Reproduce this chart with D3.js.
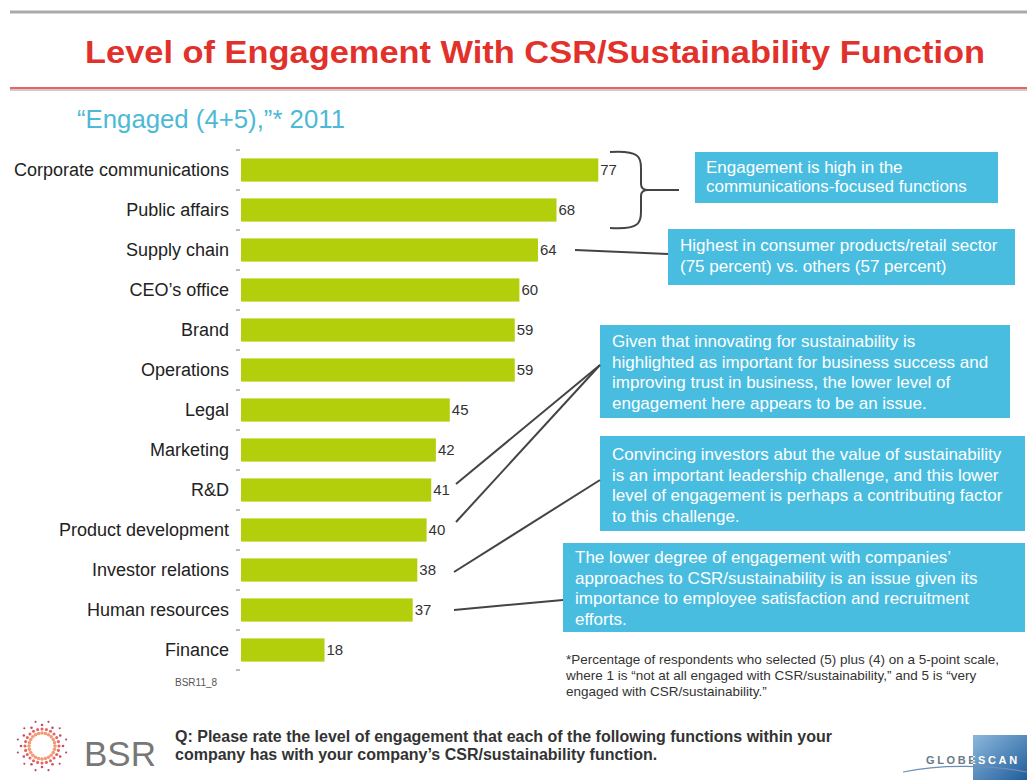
<!DOCTYPE html>
<html>
<head>
<meta charset="utf-8">
<script src="https://cdn.jsdelivr.net/npm/d3@7"></script>
<style>
  body { margin: 0; background: #fff; }
  svg { display: block; font-family: "Liberation Sans", Arial, sans-serif; }
  .cat { font-size: 18px; fill: #222; }
  .val { font-size: 15px; fill: #333; }
  .note { font-size: 17px; fill: #fff; }
</style>
</head>
<body>
<div id="chart"></div>
<script>
//Chart data
let categories = ['Corporate communications', 'Public affairs', 'Supply chain', "CEO\u2019s office", 'Brand', 'Operations',
    'Legal', 'Marketing', 'R&D', 'Product development', 'Investor relations', 'Human resources', 'Finance'];
let values = [77, 68, 64, 60, 59, 59, 45, 42, 41, 40, 38, 37, 18];

//Callout boxes: text lines
let note_lines = [
    ['Engagement is high in the', 'communications-focused functions'],
    ['Highest in consumer products/retail sector', '(75 percent) vs. others (57 percent)'],
    ['Given that innovating for sustainability is', 'highlighted as important for business success and',
     'improving trust in business, the lower level of', 'engagement here appears to be an issue.'],
    ['Convincing investors abut the value of sustainability', 'is an important leadership challenge, and this lower',
     'level of engagement is perhaps a contributing factor', 'to this challenge.'],
    ["The lower degree of engagement with companies\u2019", 'approaches to CSR/sustainability is an issue given its',
     'importance to employee satisfaction and recruitment', 'efforts.']
];
let footnote_lines = ['*Percentage of respondents who selected (5) plus (4) on a 5-point scale,',
    'where 1 is \u201cnot at all engaged with CSR/sustainability,\u201d and 5 is \u201cvery',
    'engaged with CSR/sustainability.\u201d'];
let question_lines = ['Q: Please rate the level of engagement that each of the following functions within your',
    'company has with your company\u2019s CSR/sustainability function.'];

let width = 1027, height = 780;
let svg = d3.select('#chart').append('svg').attr('width', width).attr('height', height);

//Header lines and title
svg.append('line').attr('x1', 10).attr('x2', width).attr('y1', 12).attr('y2', 12)
    .attr('stroke', '#aaa').attr('stroke-width', 3);
svg.append('text').attr('x', 535).attr('y', 63).attr('text-anchor', 'middle')
    .attr('font-size', 31).attr('font-weight', 'bold').attr('fill', '#e2312b')
    .attr('textLength', 900).attr('lengthAdjust', 'spacingAndGlyphs')
    .text('Level of Engagement With CSR/Sustainability Function');
svg.append('line').attr('x1', 10).attr('x2', width).attr('y1', 90).attr('y2', 90)
    .attr('stroke', '#ccc').attr('stroke-width', 2);
svg.append('line').attr('x1', 10).attr('x2', width).attr('y1', 88).attr('y2', 88)
    .attr('stroke', '#e2312b').attr('stroke-width', 1.5);
svg.append('text').attr('x', 77).attr('y', 128).attr('font-size', 25).attr('fill', '#4cb9d6')
    .attr('textLength', 268).attr('lengthAdjust', 'spacingAndGlyphs')
    .text('\u201cEngaged (4+5),\u201d* 2011');

//Scales
let x = d3.scaleLinear().domain([0, 100]).range([241, 705]);
let y = d3.scaleBand().domain(categories).range([150, 670]).paddingInner(0.42).paddingOuter(0.21);
let gap = y.step() * 0.21;

//Small tick marks at band boundaries
let tick_pos = categories.map(c => y(c) - gap).concat([y(categories[categories.length - 1]) + y.bandwidth() + gap]);
svg.selectAll('.tick-mark').data(tick_pos).enter().append('line')
    .attr('x1', 236).attr('x2', 240).attr('y1', d => d).attr('y2', d => d)
    .attr('stroke', '#777').attr('stroke-width', 1);

//Bars
svg.selectAll('.bar').data(values).enter().append('rect')
    .attr('x', x(0)).attr('y', (d, i) => y(categories[i]))
    .attr('width', d => x(d) - x(0)).attr('height', y.bandwidth())
    .attr('fill', '#b3cf0c');

//Category labels
svg.selectAll('.cat').data(categories).enter().append('text').attr('class', 'cat')
    .attr('x', 229).attr('y', d => y(d) + y.bandwidth() / 2).attr('dy', '0.35em')
    .attr('text-anchor', 'end').text(d => d);

//Value labels
svg.selectAll('.val').data(values).enter().append('text').attr('class', 'val')
    .attr('x', d => x(d) + 2).attr('y', (d, i) => y(categories[i]) + y.bandwidth() / 2).attr('dy', '0.35em')
    .text(d => d);
svg.append('text').attr('x', 175).attr('y', 686).attr('font-size', 10).attr('fill', '#555').text('BSR11_8');

//Callout boxes
let boxes = [
    {x: 695, y: 152, w: 303, h: 51, tx: 706, ty: 173, lh: 19},
    {x: 668, y: 229, w: 347, h: 56, tx: 680, ty: 251, lh: 20.5},
    {x: 600, y: 325, w: 410, h: 93, tx: 612, ty: 347, lh: 20.7},
    {x: 600, y: 436, w: 425, h: 95, tx: 612, ty: 460, lh: 20.7},
    {x: 563, y: 543, w: 462, h: 89, tx: 575, ty: 563, lh: 20.7}
];
boxes.forEach((b, i) => {
    svg.append('rect').attr('x', b.x).attr('y', b.y).attr('width', b.w).attr('height', b.h).attr('fill', '#48bde0');
    let t = svg.append('text').attr('class', 'note');
    note_lines[i].forEach((l, j) => {
        t.append('tspan').attr('x', b.tx).attr('y', b.ty + j * b.lh).text(l);
    });
});

//Brace next to the two communications bars
let cy = y('Corporate communications') + y.bandwidth() / 2;
let py = y('Public affairs') + y.bandwidth() / 2;
let mid = (cy + py) / 2;
svg.append('path')
    .attr('d', 'M610,' + (cy - 18) + ' C640,' + (cy - 20) + ' 641,' + (cy - 12) + ' 641,' + (cy - 2) +
        ' L641,' + (mid - 6) + ' C641,' + (mid - 1) + ' 644,' + mid + ' 648,' + mid +
        ' C644,' + mid + ' 641,' + (mid + 1) + ' 641,' + (mid + 6) +
        ' L641,' + (py + 2) + ' C641,' + (py + 12) + ' 640,' + (py + 20) + ' 610,' + (py + 18))
    .attr('fill', 'none').attr('stroke', '#444').attr('stroke-width', 2);
svg.append('line').attr('x1', 648).attr('x2', 679).attr('y1', mid).attr('y2', mid)
    .attr('stroke', '#444').attr('stroke-width', 2);

//Connector lines from value labels to boxes
let rowY = c => y(c) + y.bandwidth() / 2;
let connectors = [
    {c: 'Supply chain', dy: 0, x1: 575, x2: 668, y2: rowY('Supply chain') + 4},
    {c: 'R&D', dy: -6, x1: 456, x2: 600, y2: 365},
    {c: 'Product development', dy: -8, x1: 456, x2: 600, y2: 365},
    {c: 'Investor relations', dy: 2, x1: 454, x2: 600, y2: 480},
    {c: 'Human resources', dy: 0, x1: 454, x2: 563, y2: 600}
];
svg.selectAll('.conn').data(connectors).enter().append('line')
    .attr('x1', d => d.x1).attr('y1', d => rowY(d.c) + d.dy)
    .attr('x2', d => d.x2).attr('y2', d => d.y2)
    .attr('stroke', '#444').attr('stroke-width', 2);

//Footnote
let fn = svg.append('text').attr('font-size', 13.5).attr('fill', '#333');
footnote_lines.forEach((l, j) => fn.append('tspan').attr('x', 566).attr('y', 664 + j * 16).text(l));

//Question text
let q = svg.append('text').attr('font-size', 16).attr('font-weight', 'bold').attr('fill', '#333');
question_lines.forEach((l, j) => q.append('tspan').attr('x', 175).attr('y', 742 + j * 18).text(l));

//BSR logo: ring of dots
let logo = svg.append('g').attr('transform', 'translate(42,746)');
let dots = [];
for (let a = 0; a < 24; a++) {
    let ang = a / 24 * 2 * Math.PI;
    [13, 17, 21, 25].forEach((r, k) => {
        if ((a + k) % 2 === 0 || k < 2) dots.push({x: r * Math.cos(ang), y: r * Math.sin(ang), k: k});
    });
}
let dotColor = d3.scaleOrdinal().domain([0, 1, 2, 3]).range(['#f08a5d', '#e0484a', '#c8283e', '#a8223a']);
logo.selectAll('circle').data(dots).enter().append('circle')
    .attr('cx', d => d.x).attr('cy', d => d.y).attr('r', d => 1.8 - d.k * 0.25)
    .attr('fill', d => dotColor(d.k)).attr('opacity', 0.85);
svg.append('text').attr('x', 84).attr('y', 766).attr('font-size', 35).attr('fill', '#777').text('BSR');

//GlobeScan logo
let defs = svg.append('defs');
let grad = defs.append('linearGradient').attr('id', 'gs').attr('x1', 0).attr('x2', 1).attr('y1', 0).attr('y2', 1);
grad.append('stop').attr('offset', '0%').attr('stop-color', '#8db8dc');
grad.append('stop').attr('offset', '100%').attr('stop-color', '#1f5d9c');
defs.append('clipPath').attr('id', 'gsclip').append('rect')
    .attr('x', 973).attr('y', 735).attr('width', 54).attr('height', 45);
svg.append('rect').attr('x', 973).attr('y', 735).attr('width', 54).attr('height', 45).attr('fill', 'url(#gs)');
let gsText = g => g.append('text').attr('x', 926).attr('y', 764).attr('font-size', 11).attr('font-weight', 'bold')
    .attr('letter-spacing', 2.6).text('GLOBESCAN');
gsText(svg).attr('fill', '#6a7a88');
gsText(svg.append('g').attr('clip-path', 'url(#gsclip)')).attr('fill', '#fff');
svg.append('path').attr('d', 'M903,772 C940,764 990,765 1027,772')
    .attr('fill', 'none').attr('stroke', '#6b8fb5').attr('stroke-width', 1.2);
</script>
</body>
</html>
